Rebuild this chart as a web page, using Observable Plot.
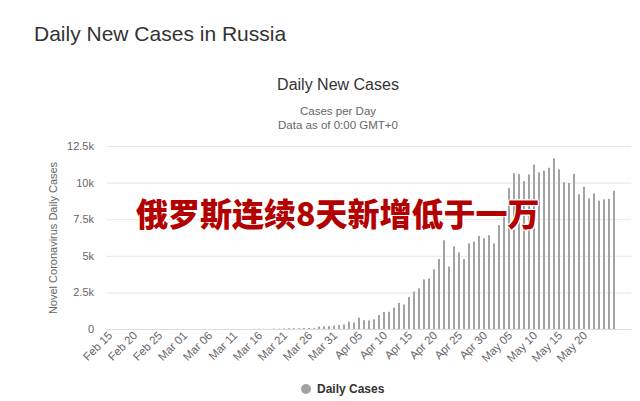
<!DOCTYPE html>
<html>
<head>
<meta charset="utf-8">
<script src="https://cdn.jsdelivr.net/npm/d3@7"></script>
<script src="https://cdn.jsdelivr.net/npm/@observablehq/plot@0.6"></script>
<style>
  html, body { margin: 0; padding: 0; background: #fff; }
  #page { position: relative; width: 640px; height: 401px; overflow: hidden; font-family: "Liberation Sans", Arial, sans-serif; }
  .abs { position: absolute; white-space: nowrap; }
  #title { left: 34px; top: 22px; font-size: 21px; color: #333; }
  #ctitle { left: 0; width: 676px; text-align: center; top: 76px; font-size: 16px; color: #333; }
  #sub1 { left: 0; width: 676px; text-align: center; top: 105px; font-size: 11.5px; color: #666; }
  #sub2 { left: 0; width: 676px; text-align: center; top: 119px; font-size: 11.5px; color: #666; }
  #chart { left: 0; top: 130px; }
  #legend { left: 301px; top: 382px; font-size: 12px; font-weight: bold; color: #333; display: flex; align-items: center; }
  #legend .dot { width: 10px; height: 10px; border-radius: 50%; background: #a3a3a3; margin-right: 6px; }
  #overlay { left: 136px; top: 193px; font-family: "Noto Sans CJK SC", sans-serif; font-weight: 900; font-size: 32px; line-height: 38px; color: #b30000;
    text-shadow: 1px 1px 0 #fff, -1px -1px 0 #fff, 1px -1px 0 #fff, -1px 1px 0 #fff; }
</style>
</head>
<body>
<div id="page">
  <div id="title" class="abs">Daily New Cases in Russia</div>
  <div id="ctitle" class="abs">Daily New Cases</div>
  <div id="sub1" class="abs">Cases per Day</div>
  <div id="sub2" class="abs">Data as of 0:00 GMT+0</div>
  <div id="chart" class="abs"></div>
  <div id="legend" class="abs"><span class="dot"></span>Daily Cases</div>
  <div id="overlay" class="abs">俄罗斯连续8天新增低于一万</div>
</div>
<script>
// Daily new cases, Russia (Feb 15 – May 23, 2020)
const febCases = [0,0,0,0,0,0,0,0,0,0,0,0,0,0,0]; // Feb 15–29
const marCases = [0,1,0,0,1,6,4,3,0,3,0,8,17,14,4,30,21,33,52,54,53,61,71,57,163,182,196,228,270,302,501];
const aprCases = [440,771,601,582,658,954,1154,1175,1459,1786,1667,2186,2558,2774,3388,3448,4070,4785,6060,4268,5642,5236,4774,5849,5966,6361,6198,6411,5841,7099];
const mayCases = [7933,9623,10633,10581,10102,10559,11231,10699,10817,11012,11656,10899,10028,9974,10598,9200,9709,8926,9263,8764,8849,8894,9434];

const xTickLabels = ["Feb 15","Feb 20","Feb 25","Mar 01","Mar 06","Mar 11","Mar 16","Mar 21","Mar 26","Mar 31","Apr 05","Apr 10","Apr 15","Apr 20","Apr 25","Apr 30","May 05","May 10","May 15","May 20"];
const yTicks = [0, 2500, 5000, 7500, 10000, 12500];
const yTickLabels = ["0", "2.5k", "5k", "7.5k", "10k", "12.5k"];

const fmt = d3.utcFormat("%b %d");
const months = [
  {start: new Date(Date.UTC(2020, 1, 15)), values: febCases},
  {start: new Date(Date.UTC(2020, 2, 1)), values: marCases},
  {start: new Date(Date.UTC(2020, 3, 1)), values: aprCases},
  {start: new Date(Date.UTC(2020, 4, 1)), values: mayCases}
];
const data = [];
for (const m of months) {
  m.values.forEach((v, i) => data.push({day: fmt(d3.utcDay.offset(m.start, i)), cases: v}));
}

const chart = Plot.plot({
  width: 640,
  height: 250,
  marginTop: 16,
  marginBottom: 51,
  marginLeft: 106.5,
  marginRight: 8.7,
  style: {fontFamily: "'Liberation Sans', Arial, sans-serif", fontSize: "11px", color: "#666", background: "transparent"},
  x: {type: "band", domain: data.map(d => d.day), padding: 0.62},
  y: {domain: [0, 12500]},
  marks: [
    Plot.gridY(yTicks, {stroke: "#e6e6e6", strokeOpacity: 1}),
    Plot.ruleY([0], {stroke: "#d8dde6"}),
    Plot.barY(data, {x: "day", y: "cases", fill: "#a3a3a3"}),
    Plot.axisX({ticks: xTickLabels, tickRotate: -45, tickSize: 0, tickPadding: 6, dx: -14, dy: -2, label: null, fill: "#666", fontSize: 11.5}),
    Plot.axisY({ticks: yTicks, tickFormat: (d) => yTickLabels[yTicks.indexOf(d)], tickSize: 0, tickPadding: 13, fill: "#666",
      label: "Novel Coronavirus Daily Cases", labelAnchor: "center", labelArrow: "none", labelOffset: 58})
  ]
});
document.getElementById("chart").appendChild(chart);
</script>
</body>
</html>
